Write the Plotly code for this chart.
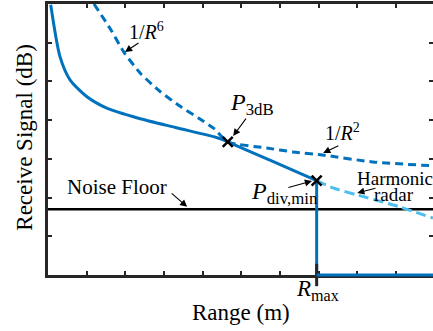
import plotly.graph_objects as go

# Received signal (solid) (x: range units, y: signal units)
sig_x = [0.07, 0.31, 0.57, 1.0, 1.52, 2.34, 3.3, 4.4, 4.65, 5.8, 6.95]
sig_y = [6.98, 5.64, 5.04, 4.61, 4.31, 4.05, 3.81, 3.54, 3.44, 2.94, 2.44]

# Asymptote 1/R^6 then 1/R^2 (dark dashed)
asym_x = [1.19, 1.63, 1.96, 2.4, 2.9, 3.4, 3.9, 4.3, 4.65, 5.66, 6.33, 7.1, 8.4, 9.96]
asym_y = [7.0, 6.33, 5.76, 5.2, 4.74, 4.37, 4.05, 3.78, 3.44, 3.28, 3.18, 3.1, 2.92, 2.82]

# Harmonic radar continuation (light dashed)
harm_x = [6.95, 7.37, 7.99, 9.1, 9.96]
harm_y = [2.44, 2.25, 2.07, 1.76, 1.47]

noise_floor = 1.7
r_max = 6.95
p3db = (4.65, 3.44)
pdiv = (6.95, 2.44)

X_MAX = 9.96
Y_MAX = 7.0

BLUE = "#0072BD"
LIGHT = "#4DBEEE"
AX = "#262626"
FONT = "Times New Roman, Liberation Serif, serif"

fig = go.Figure()
fig.add_trace(go.Scatter(x=[0, X_MAX], y=[noise_floor, noise_floor], mode="lines",
                         line=dict(color="black", width=2.5), hoverinfo="skip"))
fig.add_trace(go.Scatter(x=asym_x, y=asym_y, mode="lines",
                         line=dict(color=BLUE, width=3, dash="8px,5px", shape="spline", smoothing=0.6)))
fig.add_trace(go.Scatter(x=harm_x, y=harm_y, mode="lines",
                         line=dict(color=LIGHT, width=3, dash="10px,5px", shape="spline", smoothing=0.6)))
fig.add_trace(go.Scatter(x=sig_x, y=sig_y, mode="lines",
                         line=dict(color=BLUE, width=3, shape="spline", smoothing=0.7)))
fig.add_trace(go.Scatter(x=[r_max, r_max], y=[pdiv[1], 0], mode="lines",
                         line=dict(color=BLUE, width=3)))
fig.add_trace(go.Scatter(x=[p3db[0], pdiv[0]], y=[p3db[1], pdiv[1]], mode="markers",
                         marker=dict(symbol="x-thin", size=10, color="black",
                                     line=dict(color="black", width=2.5))))
fig.add_trace(go.Scatter(x=[r_max], y=[0], mode="markers", cliponaxis=False,
                         marker=dict(symbol="line-ns", size=16, color=AX,
                                     line=dict(color=AX, width=3))))

fig.add_shape(type="line", xref="x", yref="paper", x0=r_max, x1=X_MAX, y0=0, y1=0,
              line=dict(color=BLUE, width=3), layer="above")

def arrow(tail, tip):
    fig.add_annotation(x=tip[0], y=tip[1], ax=tail[0], ay=tail[1], xref="x", yref="y",
                       axref="x", ayref="y", text="", showarrow=True, arrowhead=2,
                       arrowsize=1.3, arrowwidth=1.1, arrowcolor="black")

def label(x, y, text, size, xref="x", yref="y", angle=0):
    fig.add_annotation(x=x, y=y, xref=xref, yref=yref, text=text, showarrow=False,
                       font=dict(family=FONT, size=size, color="black"),
                       xanchor="center", yanchor="middle", textangle=angle)

label(2.56, 6.3, "1/<i>R</i><sup>6</sup>", 20)
arrow((2.38, 6.02), (1.99, 5.76))
label(5.28, 4.42, "<i>P</i><sub>3dB</sub>", 24)
arrow((5.15, 4.08), (4.79, 3.59))
label(7.63, 3.7, "1/<i>R</i><sup>2</sup>", 20)
arrow((7.55, 3.36), (7.12, 3.15))
label(8.98, 2.48, "Harmonic", 19)
label(8.95, 2.07, "radar", 19)
arrow((8.51, 2.25), (8.0, 2.12))
label(6.11, 2.12, "<i>P</i><sub>div,min</sub>", 24)
arrow((6.18, 2.25), (6.83, 2.43))
label(1.79, 2.27, "Noise Floor", 21)
arrow((3.16, 2.14), (3.6, 1.76))
# labels outside the plot area (paper coordinates)
label((r_max + 0.01) / X_MAX, -0.055, "<i>R</i><sub>max</sub>", 23, xref="paper", yref="paper")
label(0.5, -0.137, "Range (m)", 23, xref="paper", yref="paper")
label(-0.06, 0.51, "Receive Signal (dB)", 23, xref="paper", yref="paper", angle=-90)

fig.update_layout(
    width=433, height=331,
    margin=dict(l=48, r=0, t=4, b=56, autoexpand=False),
    plot_bgcolor="white", paper_bgcolor="white",
    showlegend=False,
    font=dict(family=FONT, color="black"),
)
axis_common = dict(showgrid=False, zeroline=False, showline=True, linewidth=2.5,
                   linecolor=AX, mirror="ticks", ticks="inside", ticklen=4,
                   tickwidth=2, tickcolor=AX, showticklabels=False, dtick=1,
                   tick0=0, layer="below traces", automargin=False)
fig.update_xaxes(range=[0, X_MAX], **axis_common)
fig.update_yaxes(range=[0, Y_MAX], **axis_common)

fig.write_html("out.html", config={"displayModeBar": False},
               post_script="document.body.style.margin='0';")
